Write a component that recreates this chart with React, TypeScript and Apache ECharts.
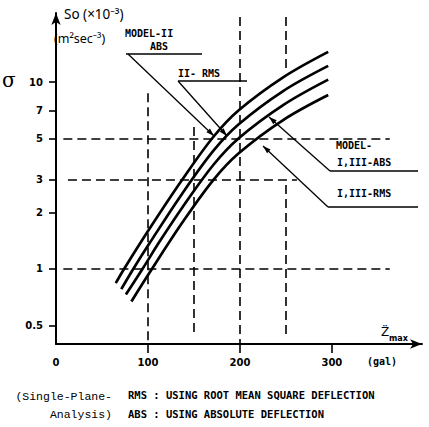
import React, { useEffect, useRef } from "react";
import * as echarts from "echarts";

// Axis tick values
const xTicks = [0, 100, 200, 300];
const xTickMarks = [100, 200, 300];
const yTicks = [0.5, 1, 2, 3, 5, 7, 10];

// Curves (x: Zmax in gal, y: So x10^-3 m^2 sec^-3)
const absIIx = [65, 74, 102, 137, 171, 199, 247, 296];
const absIIy = [0.84, 1.0, 1.65, 2.99, 5.08, 7.08, 10.6, 14.5];
const rmsIIx = [71, 84, 102, 137, 171, 199, 247, 296];
const rmsIIy = [0.78, 1.0, 1.38, 2.52, 4.28, 5.96, 8.95, 12.2];
const absIx = [76, 94, 113, 137, 171, 199, 247, 296];
const absIy = [0.73, 1.0, 1.41, 2.12, 3.6, 5.02, 7.53, 10.3];
const rmsIx = [82, 102, 137, 171, 199, 247, 296];
const rmsIy = [0.67, 0.96, 1.76, 2.99, 4.17, 6.26, 8.52];

// Dashed guide lines
const hGuideY = [5, 3, 1];
const hGuideFrom = [8, 13, 8];
const hGuideTo = [363, 262, 363];
const vGuideX = [100, 150, 200, 250, 250];
const vGuideTop = [8.7, 5.75, 22.3, 22.3, 2.81];
const vGuideBottom = [0.397, 0.44, 0.397, 11.3, 0.44];

const zip = (xs: number[], ys: number[]) => xs.map((x, i) => [x, ys[i]]);

function arrowHead(x1: number, y1: number, x2: number, y2: number, len = 8, half = 2.6) {
  const a = Math.atan2(y2 - y1, x2 - x1);
  const bx = x2 - len * Math.cos(a);
  const by = y2 - len * Math.sin(a);
  const px = -Math.sin(a) * half;
  const py = Math.cos(a) * half;
  return [
    [x2, y2],
    [bx + px, by + py],
    [bx - px, by - py],
  ];
}

const LBL_FONT = "DejaVu Sans Mono";

function leader(x1: number, y1: number, x2: number, y2: number, ux1: number, ux2: number) {
  return [
    { type: "line", shape: { x1: ux1, y1, x2: ux2, y2: y1 }, style: { stroke: "#000", lineWidth: 1.4 } },
    { type: "line", shape: { x1, y1, x2, y2 }, style: { stroke: "#000", lineWidth: 1.3 } },
    { type: "polygon", shape: { points: arrowHead(x1, y1, x2, y2) }, style: { fill: "#000" } },
  ];
}

function txt(x: number, y: number, text: string, opts: any = {}) {
  return {
    type: "text",
    x,
    y,
    style: {
      text,
      fill: "#000",
      font: opts.font || `bold 10px "${LBL_FONT}"`,
      textAlign: opts.align || "left",
      textVerticalAlign: "middle",
    },
  };
}

export default function App() {
  const ref = useRef<HTMLDivElement>(null);
  useEffect(() => {
    if (!ref.current) return;
    const chart = echarts.init(ref.current, null, { renderer: "svg" });
    const curveStyle = { color: "#000", width: 2.7 };
    const guideData: any[] = [];
    hGuideY.forEach((y, i) => guideData.push([{ coord: [hGuideFrom[i], y] }, { coord: [hGuideTo[i], y] }]));
    vGuideX.forEach((x, i) => guideData.push([{ coord: [x, vGuideTop[i]] }, { coord: [x, vGuideBottom[i]] }]));

    const mk = (name: string, data: number[][], extra: any = {}) => ({
      name,
      type: "line",
      data,
      smooth: 0.35,
      showSymbol: false,
      symbol: "none",
      clip: false,
      lineStyle: curveStyle,
      silent: true,
      ...extra,
    });

    chart.setOption({
      animation: false,
      grid: { left: 56, right: 7, top: 13, bottom: 83, containLabel: false, outerBoundsMode: "none" },
      xAxis: {
        type: "value",
        min: 0,
        max: 398,
        axisLine: {
          show: true,
          symbol: ["none", "arrow"],
          symbolSize: [7, 12],
          lineStyle: { color: "#000", width: 2 },
        },
        axisTick: { show: true, customValues: xTickMarks, length: 9, lineStyle: { color: "#000", width: 1.6 } },
        axisLabel: {
          customValues: xTicks,
          formatter: (v: number) => String(Math.round(v)),
          color: "#000",
          fontWeight: "bold",
          fontSize: 10,
          fontFamily: "DejaVu Sans",
          margin: 13,
        },
        splitLine: { show: false },
      },
      yAxis: {
        type: "log",
        logBase: 10,
        min: 0.397,
        max: 23.4,
        axisLine: {
          show: true,
          symbol: ["none", "arrow"],
          symbolSize: [7, 12],
          lineStyle: { color: "#000", width: 2 },
        },
        axisTick: { show: true, customValues: yTicks, length: 7, lineStyle: { color: "#000", width: 1.6 } },
        axisLabel: {
          customValues: yTicks,
          formatter: (v: number) => String(Number(Number(v).toPrecision(3))),
          color: "#000",
          fontWeight: "bold",
          fontSize: 10,
          fontFamily: "DejaVu Sans",
          margin: 13,
        },
        splitLine: { show: false },
        minorTick: { show: false },
      },
      series: [
        mk("MODEL-II ABS", zip(absIIx, absIIy), {
          markLine: {
            silent: true,
            symbol: ["none", "none"],
            label: { show: false },
            lineStyle: { type: [9, 5], color: "#000", width: 1.6 },
            data: guideData,
          },
        }),
        mk("II-RMS", zip(rmsIIx, rmsIIy)),
        mk("MODEL-I,III-ABS", zip(absIx, absIy)),
        mk("I,III-RMS", zip(rmsIx, rmsIy)),
      ],
      graphic: [
        txt(64, 14, "So (×10⁻³)", { font: '13.5px "Noto Sans"' }),
        txt(54, 38, "(m²sec⁻³)", { font: '12.5px "Noto Sans"' }),
        txt(2, 80, "σ", { font: '20px "DejaVu Serif"' }),
        txt(125, 33, "MODEL-II"),
        txt(150, 46, "ABS"),
        ...leader(128, 54, 214, 136, 126, 202),
        txt(178, 73, "II- RMS"),
        ...leader(178, 81, 227, 136, 178, 247),
        txt(336, 145, "MODEL-"),
        txt(337, 162, "I,III-ABS"),
        ...leader(330, 171, 269, 117, 330, 418),
        txt(337, 193, "I,III-RMS"),
        ...leader(328, 207, 263, 146, 328, 418),
        txt(381, 332, "Z̈", { font: '12px "DejaVu Sans"' }),
        txt(389, 338, "max", { font: 'bold 8px "DejaVu Sans"' }),
        txt(367, 361, "(gal)", { font: 'bold 10px "DejaVu Sans Mono"' }),
        txt(112, 396, "(Single-Plane-", { font: '11.5px "Liberation Mono"', align: "right" }),
        txt(112, 414, "Analysis)", { font: '11.5px "Liberation Mono"', align: "right" }),
        txt(128, 395, "RMS : USING ROOT MEAN SQUARE DEFLECTION", { font: 'bold 10.5px "DejaVu Sans Mono"' }),
        txt(128, 414, "ABS : USING ABSOLUTE DEFLECTION", { font: 'bold 10.5px "DejaVu Sans Mono"' }),
      ],
    });
    return () => chart.dispose();
  }, []);
  return (
    <div
      ref={ref}
      style={{ position: "fixed", left: 0, top: 0, width: 429, height: 427, background: "#fff" }}
    />
  );
}
